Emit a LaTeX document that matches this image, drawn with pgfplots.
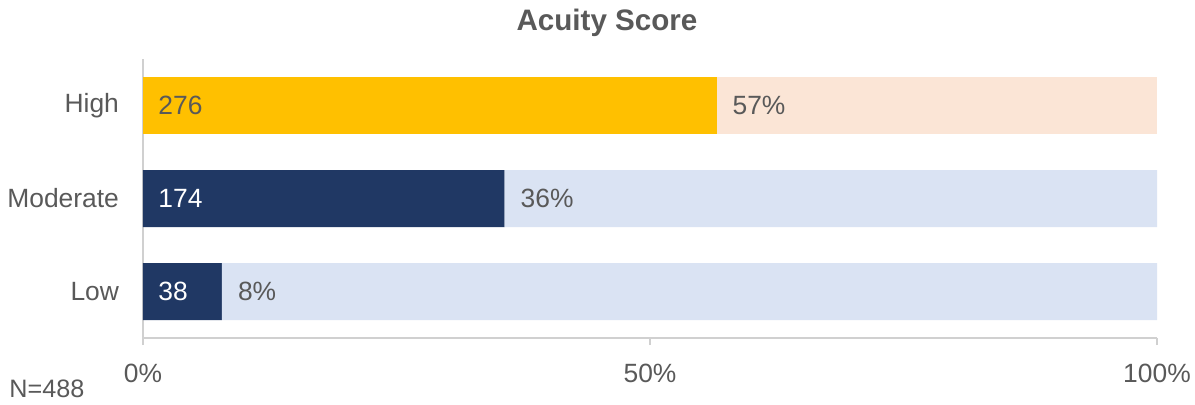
\documentclass[border=0pt]{standalone}
\usepackage{pgfplots}
\pgfplotsset{compat=1.18}
\usepackage{fontspec}
\setmainfont{Liberation Sans}
\definecolor{txt}{HTML}{595959}
\definecolor{navy}{HTML}{203864}
\definecolor{gold}{HTML}{FFC000}
\definecolor{lblue}{HTML}{DAE3F3}
\definecolor{peach}{HTML}{FBE5D6}
\definecolor{axgray}{HTML}{D0D0D0}

\begin{document}
\begin{tikzpicture}
\begin{axis}[scale only axis,width=507pt,height=139.5pt,
xmin=0,xmax=100,ymin=-0.5,ymax=2.5,
axis x line*=bottom,axis y line*=left,
axis line style={axgray,line width=0.8pt},
xtick={0,50,100},xticklabels={0\%,50\%,100\%},
ytick={0,1,2},yticklabels={Low,Moderate,High},
tick align=outside,major tick length=3.5pt,
xtick style={axgray,line width=0.8pt},ytick style={draw=none},
x tick label style={yshift=-6pt},
y tick label style={xshift=-5pt},
ticklabel style={font=\fontsize{13.2}{16}\selectfont,text=txt},
title={Acuity Score},every axis title shift=0pt,
title style={at={(0.4576,1)},anchor=base,yshift=14.5pt,
font=\fontsize{14.8}{18}\selectfont\bfseries,text=txt},
lbl/.style={sharp plot,draw=none,mark=none,
nodes near coords,point meta=explicit symbolic,nodes near coords align=horizontal},
clip=false]
% shares of N=488
\addplot[xbar stacked,bar width=28.5pt,fill=navy,draw=none] coordinates {(7.79,0) (35.66,1) (0,2)};
\addplot[xbar stacked,bar width=28.5pt,fill=gold,draw=none] coordinates {(0,0) (0,1) (56.56,2)};
\addplot[xbar stacked,bar width=28.5pt,fill=lblue,draw=none] coordinates {(92.21,0) (64.34,1) (0,2)};
\addplot[xbar stacked,bar width=28.5pt,fill=peach,draw=none] coordinates {(0,0) (0,1) (43.44,2)};
% labels
\addplot[lbl,stack plots=false,
every node near coord/.style={anchor=west,xshift=4.2pt,text=white,
font=\fontsize{13.2}{16}\selectfont}]
coordinates {(0,0) [38] (0,1) [174]};
\addplot[lbl,stack plots=false,
every node near coord/.style={anchor=west,xshift=4.2pt,text=txt,
font=\fontsize{13.2}{16}\selectfont}]
coordinates {(0,2) [276]};
\addplot[lbl,stack plots=false,
every node near coord/.style={anchor=west,xshift=4.5pt,text=txt,
font=\fontsize{13.2}{16}\selectfont}]
coordinates {(7.79,0) [8\%] (35.66,1) [36\%] (56.56,2) [57\%]};
\end{axis}
\node[anchor=base west,text=txt,font=\fontsize{12.6}{15}\selectfont,inner sep=0pt]
at ([xshift=-67pt,yshift=-29.5pt]current axis.south west) {N=488};
\pgfresetboundingbox
\path ([xshift=-71.5pt,yshift=-33pt]current axis.south west) rectangle ++(597.5pt,202pt);
\end{tikzpicture}
\end{document}
